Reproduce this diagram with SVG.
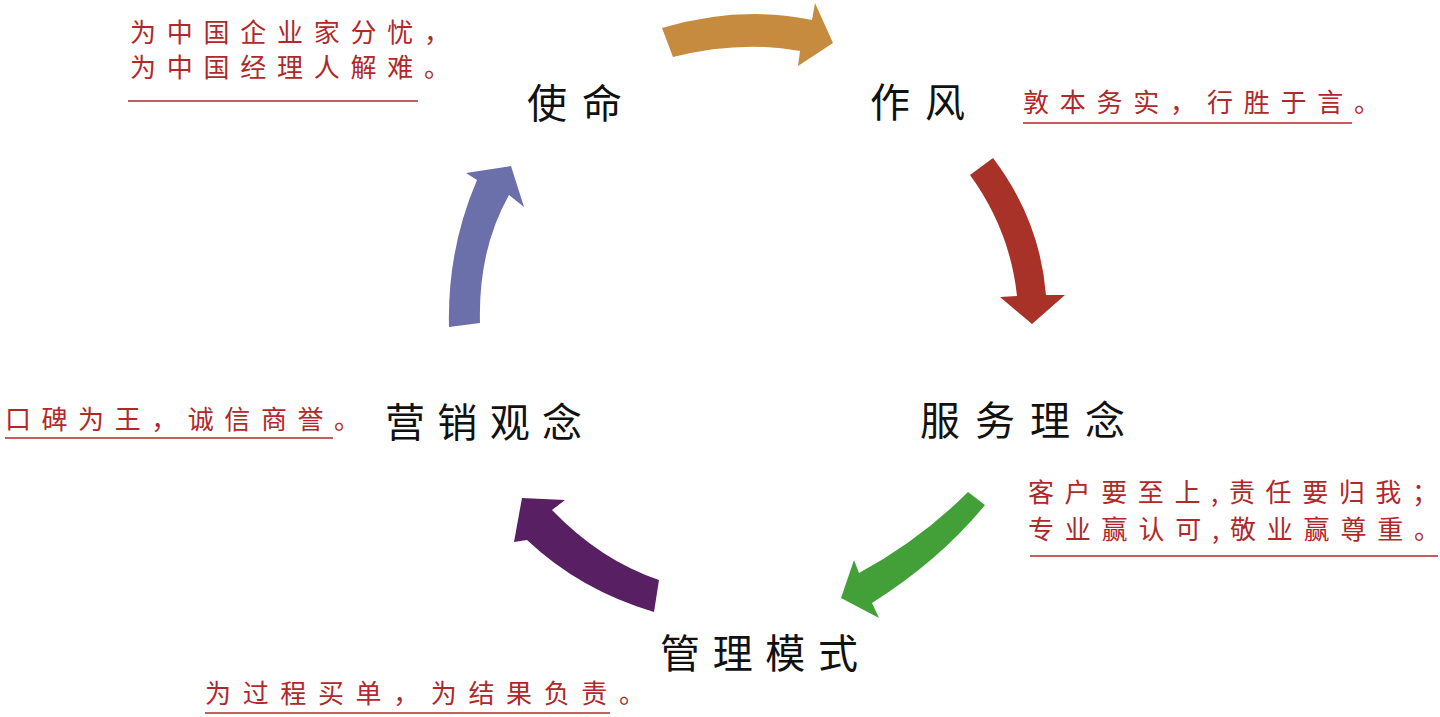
<svg xmlns="http://www.w3.org/2000/svg" width="1440" height="717" viewBox="0 0 1440 717">
<style>
.n{font-family:"Noto Sans CJK SC",sans-serif;font-size:40px;fill:#111;}
.d{font-family:"Noto Sans CJK SC",serif;font-size:26px;fill:#b0282a;}
.u{stroke:#b0282a;stroke-width:1.5;}
</style>
<rect width="1440" height="717" fill="#fff"/>
<g id="connectors">
<path d="M662,28 Q740,5 812,20 L815,3 L833,43 L798,66 L800,51 Q740,40 673,57 Z" fill="#c78b3f"/>
<path d="M970,175 L993,158 Q1040,220 1046,295 L1065,295 L1032,324 L1000,297 L1017,296 Q1010,230 970,175 Z" fill="#a83128"/>
<path d="M968,492 L985,505 Q940,560 872,603 L879,618 L841,598 L854,560 L859,573 Q920,540 968,492 Z" fill="#43a038"/>
<path d="M659,580 L654,612 Q580,590 527,540 L514,542 L522,498 L565,500 L552,510 Q600,560 659,580 Z" fill="#582063"/>
<path d="M449,327 L480,323 Q478,250 509,195 L524,207 L511,166 L466,173 L477,180 Q447,250 449,327 Z" fill="#6b70aa"/>
</g>
<g id="n-shiming"><text class="n" x="527" y="118" textLength="95">使命</text>
<text class="d" x="130" y="42" textLength="320">为中国企业家分忧，</text>
<text class="d" x="130" y="77" textLength="320">为中国经理人解难。</text>
<line class="u" x1="128" y1="101" x2="418" y2="101"/></g>
<g id="n-zuofeng"><text class="n" x="870" y="117" textLength="95">作风</text>
<text class="d" x="1023" y="112" textLength="357">敦本务实，行胜于言。</text>
<line class="u" x1="1023" y1="123" x2="1352" y2="123"/></g>
<g id="n-fuwu"><text class="n" x="920" y="435" textLength="205">服务理念</text>
<text class="d" x="1028" y="502" textLength="410">客户要至上,责任要归我；</text>
<text class="d" x="1028" y="539" textLength="412">专业赢认可,敬业赢尊重。</text>
<line class="u" x1="1030" y1="556" x2="1438" y2="556"/></g>
<g id="n-guanli"><text class="n" x="660" y="668" textLength="198">管理模式</text>
<text class="d" x="205" y="703" textLength="440">为过程买单，为结果负责。</text>
<line class="u" x1="205" y1="713" x2="610" y2="713"/></g>
<g id="n-yingxiao"><text class="n" x="385" y="437" textLength="197">营销观念</text>
<text class="d" x="5" y="429" textLength="355">口碑为王，诚信商誉。</text>
<line class="u" x1="5" y1="438" x2="333" y2="438"/></g>
</svg>
